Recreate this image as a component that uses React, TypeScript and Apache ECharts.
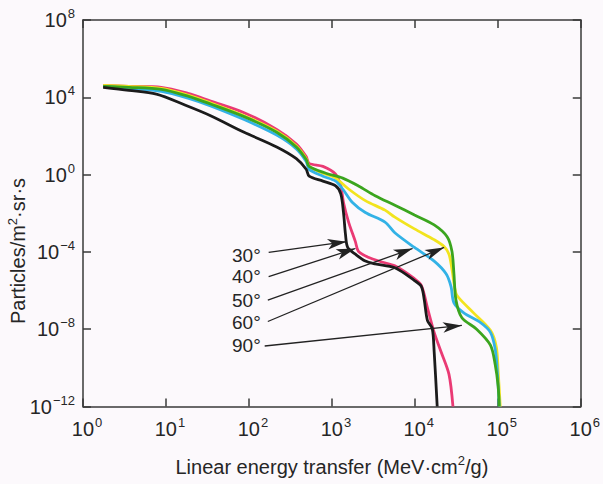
import React, { useEffect, useRef } from 'react';
import * as echarts from 'echarts';

// Linear energy transfer (MeV·cm²/g) and flux (particles/m²·sr·s) per zenith angle
const LET_30 = [1.75, 3.57, 7.67, 16.9, 34.5, 87.5, 216, 373, 490, 532, 780, 1110, 1280, 1380, 1460, 1550, 1920, 2530, 3320, 5740, 9900, 12000, 13000, 14200, 16200, 17100, 18600];
const FLUX_30 = [3.3e4, 2.3e4, 1.45e4, 4.0e3, 1.12e3, 155, 27, 6.7, 1.9, 0.83, 0.46, 0.26, 0.10, 1.1e-2, 7.8e-4, 1.7e-4, 7.6e-5, 3.35e-5, 2.4e-5, 1.5e-5, 3.3e-6, 1.6e-6, 3.2e-7, 2.8e-8, 1.1e-8, 6.8e-10, 1e-12];

const LET_40 = [1.75, 3.57, 8.8, 18.4, 34.5, 87.5, 216, 373, 490, 532, 780, 1110, 1280, 1380, 1590, 1920, 2090, 2740, 4000, 5740, 9900, 12000, 14400, 17100, 20700, 25800, 28800];
const FLUX_40 = [4.1e4, 3.7e4, 3.3e4, 1.6e4, 6.4e3, 1.6e3, 220, 38.5, 8.5, 3.8, 2.65, 1.05, 0.26, 3.6e-2, 3.5e-3, 3.4e-4, 1.07e-4, 5.3e-5, 3.0e-5, 1.9e-5, 4.1e-6, 1.8e-6, 1.0e-7, 6.9e-9, 6.8e-10, 4.6e-11, 1e-12];

const LET_50 = [1.75, 3.57, 8.8, 18.4, 34.5, 87.5, 216, 373, 490, 532, 780, 1110, 1350, 1770, 2530, 4370, 5740, 9900, 17100, 23800, 27300, 29600, 38900, 62000, 81500, 93000, 98700, 104000];
const FLUX_50 = [3.7e4, 2.9e4, 2.05e4, 9.1e3, 3.6e3, 705, 110, 21.5, 4.75, 1.87, 0.83, 0.46, 0.18, 3.6e-2, 1.1e-2, 3.5e-3, 9.8e-4, 1.7e-4, 3.35e-5, 7.4e-6, 1.6e-6, 2.3e-7, 7.0e-8, 2.2e-8, 6.9e-9, 9.5e-10, 6.6e-11, 1e-12];

const LET_60 = [1.75, 3.57, 8.8, 18.4, 34.5, 87.5, 216, 373, 490, 532, 780, 1110, 1590, 2530, 4370, 5740, 9900, 17100, 22500, 25800, 28000, 31300, 35900, 51000, 81500, 96000, 101000, 107000];
const FLUX_60 = [4.1e4, 3.7e4, 2.9e4, 1.3e4, 5.1e3, 1.12e3, 175, 30.5, 6.7, 2.65, 1.18, 0.66, 0.18, 4.5e-2, 1.45e-2, 6.3e-3, 1.55e-3, 4.3e-4, 1.9e-4, 7.6e-5, 1.3e-5, 7.2e-7, 3.2e-7, 7.0e-8, 8.7e-9, 1.2e-9, 6.6e-11, 1e-12];

const LET_90 = [1.75, 3.57, 8.8, 18.4, 34.5, 87.5, 216, 373, 490, 532, 847, 1350, 2090, 3320, 5740, 9900, 17100, 24500, 28000, 29600, 31300, 36900, 55600, 81500, 93000, 101000, 104000];
const FLUX_90 = [3.7e4, 3.3e4, 2.6e4, 1.15e4, 4.5e3, 1.0e3, 156, 27, 6.0, 2.65, 1.18, 0.66, 0.26, 8.1e-2, 2.6e-2, 8.1e-3, 2.5e-3, 6.1e-4, 1.07e-4, 7.4e-6, 3.2e-7, 3.9e-8, 1.0e-8, 1.5e-9, 1.5e-10, 1.1e-11, 1e-12];

// Angle callouts: label anchor (right edge of text) and arrow from label to curve
const ARROW_LABELS = ['30°', '40°', '50°', '60°', '90°'];
const LABEL_LET = [139, 139, 139, 139, 139];
const LABEL_FLUX = [6.7e-5, 5.2e-6, 3.2e-7, 2.2e-8, 1.5e-9];
const ARROW_FROM_LET = [173, 173, 169, 169, 155];
const ARROW_FROM_FLUX = [9.5e-5, 5.2e-6, 3.2e-7, 2.5e-8, 1.35e-9];
const ARROW_TO_LET = [1500, 1920, 9400, 22500, 36900];
const ARROW_TO_FLUX = [3.4e-4, 1.5e-4, 1.5e-4, 1.7e-4, 1.56e-8];

const X_MIN = 1;
const X_MAX = 1e6;
const Y_MIN_EXP = -12;
const Y_MAX_EXP = 8;
const Y_STEP_EXP = 4;

const FONT = 'Liberation Sans, Arial, Helvetica, sans-serif';
const TEXT = '#262626';
const AXIS = '#3a3a3a';

const sup = (n: number) => (n < 0 ? '\u2212' + -n : String(n));

export default function App() {
  const ref = useRef<HTMLDivElement>(null);
  useEffect(() => {
    if (!ref.current) return;
    const chart = echarts.init(ref.current, undefined, { renderer: 'svg' });
    const toPairs = (xs: number[], ys: number[]) => xs.map((x, i) => [x, Math.log10(ys[i])]);
    const curves = [
      { name: '40°', color: '#ea3a74', xs: LET_40, ys: FLUX_40 },
      { name: '60°', color: '#f2e41e', xs: LET_60, ys: FLUX_60 },
      { name: '50°', color: '#33b2e6', xs: LET_50, ys: FLUX_50 },
      { name: '90°', color: '#3ba51e', xs: LET_90, ys: FLUX_90 },
      { name: '30°', color: '#1b1b1b', xs: LET_30, ys: FLUX_30 },
    ];
    const richX = {
      b: { fontSize: 20, fontFamily: FONT, color: TEXT, lineHeight: 22, padding: [0, 0, 0, 8] },
      s: { fontSize: 13, fontFamily: FONT, color: TEXT, lineHeight: 22, padding: [0, 0, 13, 1] },
    };
    const richY = {
      b: { fontSize: 20, fontFamily: FONT, color: TEXT, lineHeight: 22 },
      s: { fontSize: 13, fontFamily: FONT, color: TEXT, lineHeight: 22, padding: [0, 0, 13, 1] },
    };
    const richName = {
      s: { fontSize: 13, fontFamily: FONT, color: TEXT, lineHeight: 22, padding: [0, 0, 12, 0] },
    };
    const series: any[] = curves.map((c) => ({
      name: c.name,
      type: 'line',
      data: toPairs(c.xs, c.ys),
      showSymbol: false,
      symbol: 'none',
      smooth: 0.3,
      lineStyle: { color: c.color, width: 2.8 },
      itemStyle: { color: c.color },
      clip: true,
      z: 2,
    }));
    series[series.length - 1].markLine = {
      silent: true,
      symbol: ['none', 'arrow'],
      symbolSize: [0, 16],
      lineStyle: { color: '#222', width: 1.3, type: 'solid' },
      label: { show: false },
      emphasis: { disabled: true },
      data: ARROW_LABELS.map((name, i) => [
        { name, coord: [ARROW_FROM_LET[i], Math.log10(ARROW_FROM_FLUX[i])] },
        { name, coord: [ARROW_TO_LET[i], Math.log10(ARROW_TO_FLUX[i])], symbolSize: [8, 19] },
      ]),
    };
    series.push({
      name: 'angle labels',
      type: 'scatter',
      data: toPairs(LABEL_LET, LABEL_FLUX),
      symbolSize: 0,
      silent: true,
      itemStyle: { color: TEXT, opacity: 1 },
      emphasis: { disabled: true },
      label: {
        show: true,
        position: 'left',
        distance: 0,
        formatter: (p: any) => ARROW_LABELS[p.dataIndex],
        fontSize: 19,
        fontFamily: FONT,
        color: TEXT,
        opacity: 1,
        textBorderWidth: 0,
      },
      z: 3,
    });
    const axisLine = { show: true, onZero: false, lineStyle: { color: AXIS, width: 1.5 } };
    const axisTick = { show: true, inside: true, length: 8, lineStyle: { color: AXIS, width: 1.5 } };
    chart.setOption({
      animation: false,
      backgroundColor: '#fcf9fc',
      grid: { left: 83, right: 13, top: 20, bottom: 70, containLabel: false },
      xAxis: [
        {
          type: 'log',
          logBase: 10,
          min: X_MIN,
          max: X_MAX,
          position: 'bottom',
          axisLine,
          axisTick,
          splitLine: { show: false },
          minorTick: { show: false },
          axisLabel: {
            margin: 11,
            formatter: (v: number) => `{b|10}{s|${sup(Math.round(Math.log10(v)))}}`,
            rich: richX,
          },
          name: 'Linear energy transfer (MeV·cm{s|2}/g)',
          nameLocation: 'middle',
          nameGap: 49,
          nameTextStyle: { fontSize: 20, fontFamily: FONT, color: TEXT, rich: richName },
        },
        {
          type: 'log',
          logBase: 10,
          min: X_MIN,
          max: X_MAX,
          position: 'top',
          axisLine,
          axisTick,
          axisLabel: { show: false },
          splitLine: { show: false },
        },
      ],
      yAxis: [
        {
          type: 'value',
          min: Y_MIN_EXP,
          max: Y_MAX_EXP,
          interval: Y_STEP_EXP,
          position: 'left',
          axisLine,
          axisTick,
          splitLine: { show: false },
          axisLabel: {
            margin: 8,
            formatter: (v: number) => `{b|10}{s|${sup(Math.round(v))}}`,
            rich: richY,
          },
        },
        {
          type: 'value',
          min: Y_MIN_EXP,
          max: Y_MAX_EXP,
          interval: Y_STEP_EXP,
          position: 'right',
          axisLine,
          axisTick,
          axisLabel: { show: false },
          splitLine: { show: false },
        },
      ],
      graphic: [
        {
          type: 'text',
          x: 18,
          y: 251,
          rotation: Math.PI / 2,
          style: {
            text: 'Particles/m{s|2}·sr·s',
            fontSize: 20,
            fontFamily: FONT,
            fill: TEXT,
            align: 'center',
            verticalAlign: 'middle',
            rich: richName,
          },
        },
      ],
      series,
    });
    return () => chart.dispose();
  }, []);
  return (
    <div
      ref={ref}
      style={{ position: 'absolute', left: 0, top: 0, width: 603, height: 484 }}
    />
  );
}
